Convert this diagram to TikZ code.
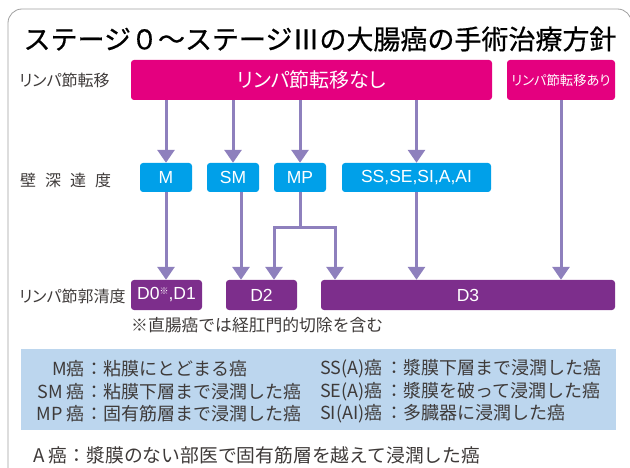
\documentclass[tikz,border=0pt]{standalone}
\usepackage{fontspec}
\setmainfont{Noto Sans CJK JP}
\newfontfamily\jpp[RawFeature=+palt]{Noto Sans CJK JP}
\newfontfamily\jpt[FakeBold=0.6]{Noto Sans CJK JP}
\newfontfamily\lat{Liberation Sans}
\usetikzlibrary{arrows.meta,calc}
\definecolor{magc}{HTML}{E4007F}
\definecolor{bluec}{HTML}{00A0E9}
\definecolor{purc}{HTML}{7D2E8C}
\definecolor{arrc}{HTML}{8E80BD}
\definecolor{legc}{HTML}{BCD6EE}
\definecolor{txtc}{HTML}{3E3A39}
\definecolor{bordc}{HTML}{A0A0A0}
\tikzset{
  box/.style={rounded corners=3pt, inner sep=0pt, text=white, align=center},
  magbox/.style={box, fill=magc, minimum height=40pt},
  bluebox/.style={box, fill=bluec, minimum height=29pt, font=\lat\fontsize{17.5}{20}\selectfont},
  purbox/.style={box, fill=purc, minimum height=30pt, font=\lat\fontsize{17.5}{20}\selectfont},
  rowlab/.style={anchor=west, inner sep=0pt, text=txtc, font=\jpp\fontsize{16}{18}\selectfont},
  legtxt/.style={inner sep=0pt, text=txtc, font=\fontsize{18}{20}\selectfont},
  ln/.style={draw=arrc, line width=3pt},
  arr/.style={ln, -{Triangle[length=13pt,width=17pt]}},
}
\begin{document}
\begin{tikzpicture}[x=1pt,y=-1pt]
\useasboundingbox (0,0) rectangle (630,468);
% frame
\draw[bordc, line width=0.8pt, rounded corners=14pt] (8,474) -- (8,9) -- (631.5,9) -- (631.5,474);
% title
\node[inner sep=0pt, text=black, font=\jpt\fontsize{27}{30}\selectfont] (title) at (320,39) {ステージ０～ステージⅢの大腸癌の手術治療方針};
% row labels
\node[rowlab] (lab1) at (19,80) {リンパ節転移};
\node[rowlab] (lab2) at (20,180) {壁\hspace{9pt}深\hspace{9pt}達\hspace{9pt}度};
\node[rowlab] (lab3) at (19,296) {リンパ節郭清度};
% top boxes
\node[magbox, minimum width=361pt, font=\jpp\fontsize{20}{22}\selectfont] (nashi) at (311.5,80) {リンパ節転移なし};
\node[magbox, minimum width=108pt, font=\jpp\fontsize{13.3}{15}\selectfont] (ari) at (561,80) {リンパ節転移あり};
% depth boxes
\node[bluebox, minimum width=52pt] (M) at (166,177.5) {M};
\node[bluebox, minimum width=52pt] (SM) at (233,177.5) {SM};
\node[bluebox, minimum width=52pt] (MP) at (300,177.5) {MP};
\node[bluebox, minimum width=149pt] (SS) at (416.5,177.5) {SS,SE,SI,A,AI};
% dissection boxes
\node[purbox, minimum width=71pt] (D01) at (166.5,295) {D0\raisebox{5pt}{\jpp\fontsize{9}{10}\selectfont ※},D1};
\node[purbox, minimum width=71pt] (D2) at (261.5,295) {D2};
\node[purbox, minimum width=294pt] (D3) at (468,295) {D3};
% note
\node[anchor=west, inner sep=0pt, text=txtc, font=\fontsize{16.8}{18}\selectfont] (note) at (131,325) {※直腸癌では経肛門的切除を含む};
% arrows top -> depth
\draw[arr] (nashi.south -| M) -- (M.north);
\draw[arr] (nashi.south -| SM) -- (SM.north);
\draw[arr] (nashi.south -| MP) -- (MP.north);
\draw[arr] (nashi.south -| SS) -- (SS.north);
\draw[arr] (ari.south) -- (ari.south |- D3.north);
% depth -> dissection
\draw[arr] (M.south) -- (M.south |- D01.north);
\coordinate (smo) at ($(SM.south)+(8,0)$);
\draw[arr] (smo) -- (smo |- D2.north);
\coordinate (mpj) at ($(MP.south)+(0,35)$);
\coordinate (mpl) at ($(mpj)+(-26,0)$);
\coordinate (mpr) at ($(mpj)+(35,0)$);
\draw[ln] (MP.south) -- (mpj);
\draw[arr] (mpj) -- (mpl) -- (mpl |- D2.north);
\draw[arr] (mpj) -- (mpr) -- (mpr |- D3.north);
\draw[arr] (SS.south) -- (SS.south |- D3.north);
% legend
\node[fill=legc, minimum width=595pt, minimum height=81pt, inner sep=0pt] (leg) at (318.5,389.5) {};
\node[legtxt, anchor=east] (p1) at (85,369) {M癌};
\node[legtxt, anchor=west] (t1) at (85,369) {：粘膜にとどまる癌};
\node[legtxt, anchor=east] (p2) at (85,391.5) {SM 癌};
\node[legtxt, anchor=west] (t2) at (85,391.5) {：粘膜下層まで浸潤した癌};
\node[legtxt, anchor=east] (p3) at (85,414) {MP 癌};
\node[legtxt, anchor=west] (t3) at (85,414) {：固有筋層まで浸潤した癌};
\node[legtxt, anchor=west] (r1) at (320,369) {SS(A)癌\hspace{3pt}：漿膜下層まで浸潤した癌};
\node[legtxt, anchor=west] (r2) at (320,391.5) {SE(A)癌\hspace{3pt}：漿膜を破って浸潤した癌};
\node[legtxt, anchor=west] (r3) at (320,414) {SI(AI)癌\hspace{3pt}：多臓器に浸潤した癌};
\node[legtxt, anchor=west, font=\fontsize{18.8}{20}\selectfont] (bot) at (33,455) {A 癌：漿膜のない部医で固有筋層を越えて浸潤した癌};
\end{tikzpicture}
\end{document}
